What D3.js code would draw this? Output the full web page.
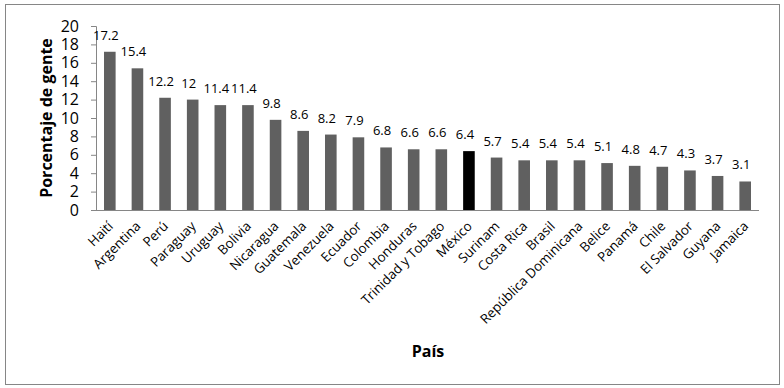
<!DOCTYPE html>
<html>
<head>
<meta charset="utf-8">
<script src="https://cdn.jsdelivr.net/npm/d3@7"></script>
<style>
  body { margin: 0; background: #fff; }
  text { font-family: "Open Sans", "Noto Sans", sans-serif; }
</style>
</head>
<body>
<div id="chart"></div>
<script>
var countries = ["Haití", "Argentina", "Perú", "Paraguay", "Uruguay", "Bolivia", "Nicaragua",
  "Guatemala", "Venezuela", "Ecuador", "Colombia", "Honduras", "Trinidad y Tobago", "México",
  "Surinam", "Costa Rica", "Brasil", "República Dominicana", "Belice", "Panamá", "Chile",
  "El Salvador", "Guyana", "Jamaica"];
var values = [17.2, 15.4, 12.2, 12, 11.4, 11.4, 9.8, 8.6, 8.2, 7.9, 6.8, 6.6, 6.6, 6.4,
  5.7, 5.4, 5.4, 5.4, 5.1, 4.8, 4.7, 4.3, 3.7, 3.1];
var highlight = "México";
var yTicks = [0, 2, 4, 6, 8, 10, 12, 14, 16, 18, 20];

var width = 784, height = 388;
var plot = {left: 96, right: 759, top: 26, bottom: 210};

var svg = d3.select("#chart").append("svg")
  .attr("width", width)
  .attr("height", height);

// outer frame
svg.append("rect")
  .attr("x", 5.5).attr("y", 4.5)
  .attr("width", 774).attr("height", 380)
  .attr("fill", "#fff")
  .attr("stroke", "#868686");

var x = d3.scaleBand().domain(countries).range([plot.left, plot.right]).paddingInner(0.58).paddingOuter(0.29);
var y = d3.scaleLinear().domain([0, 20]).range([plot.bottom, plot.top]);

var data = countries.map(function (c, i) { return {name: c, value: values[i]}; });

// y axis
var yAxis = svg.append("g")
  .attr("transform", "translate(" + plot.left + ",0)")
  .call(d3.axisLeft(y).tickValues(yTicks).tickSize(5).tickPadding(12));
yAxis.select(".domain").attr("stroke", "#868686");
yAxis.selectAll(".tick line").attr("stroke", "#868686");
yAxis.selectAll("text")
  .attr("font-size", "16px")
  .attr("fill", "#000");

// bars
svg.selectAll(".bar")
  .data(data)
  .enter()
  .append("rect")
  .attr("class", "bar")
  .attr("x", function (d) { return x(d.name); })
  .attr("width", x.bandwidth())
  .attr("y", function (d) { return y(d.value); })
  .attr("height", function (d) { return y(0) - y(d.value); })
  .attr("fill", function (d) { return d.name === highlight ? "#000" : "#606060"; });

// value labels
svg.selectAll(".val")
  .data(data)
  .enter()
  .append("text")
  .attr("class", "val")
  .attr("x", function (d) { return x(d.name) + x.bandwidth() / 2 - 4; })
  .attr("y", function (d) { return y(d.value) - 12; })
  .attr("text-anchor", "middle")
  .attr("font-size", "13px")
  .attr("fill", "#000")
  .text(function (d) { return d.value; });

// x axis
var xAxis = svg.append("g")
  .attr("transform", "translate(0," + plot.bottom + ")")
  .call(d3.axisBottom(x).tickSize(0).tickPadding(0));
xAxis.select(".domain").attr("stroke", "#868686").attr("d", "M" + plot.left + ",0.5H" + plot.right);
xAxis.selectAll("text")
  .attr("font-size", "13.3px")
  .attr("fill", "#000")
  .attr("text-anchor", "end")
  .attr("dy", 0)
  .attr("y", 0)
  .attr("transform", "translate(4,17) rotate(-45)");

// axis titles
svg.append("text")
  .attr("transform", "translate(52,118) rotate(-90)")
  .attr("text-anchor", "middle")
  .attr("font-size", "16px")
  .attr("font-weight", "bold")
  .text("Porcentaje de gente");

svg.append("text")
  .attr("x", 428)
  .attr("y", 357)
  .attr("text-anchor", "middle")
  .attr("font-size", "16px")
  .attr("font-weight", "bold")
  .text("País");
</script>
</body>
</html>
